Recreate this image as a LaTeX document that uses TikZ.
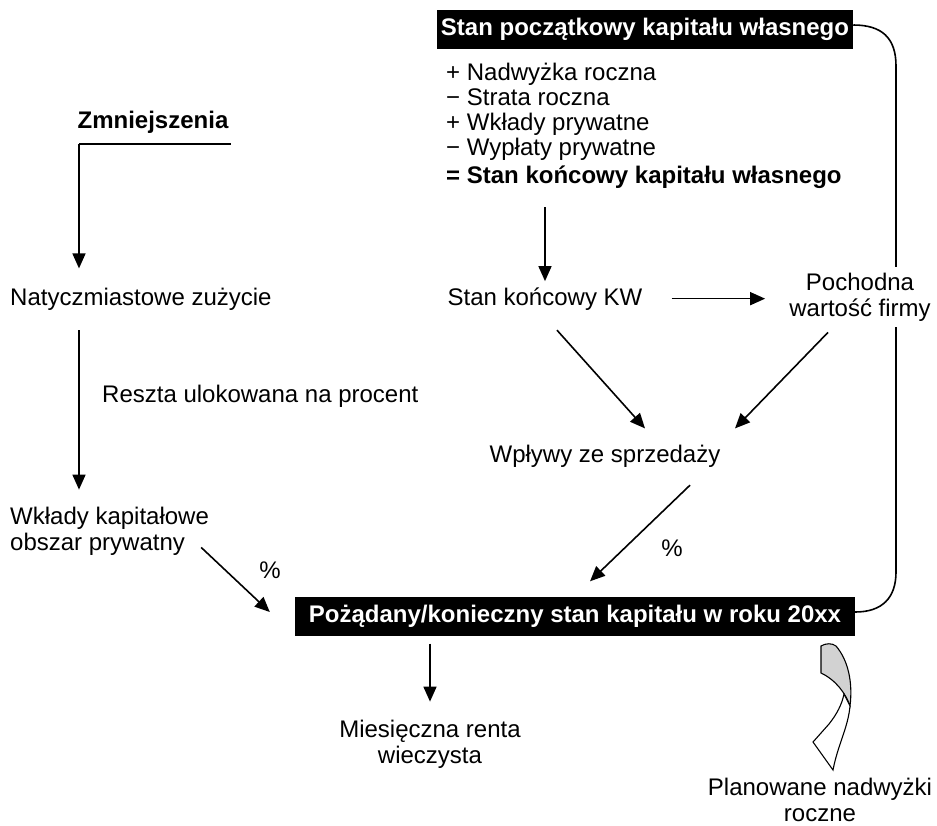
\documentclass[tikz,border=0pt]{standalone}
\usepackage{fontspec}
\setmainfont{Liberation Sans}
\usetikzlibrary{arrows.meta,positioning}
\tikzstyle{txt} = [font=\fontsize{24}{26}\selectfont, inner sep=2pt]
\tikzstyle{boldtxt} = [txt, font=\fontsize{24}{26}\selectfont\bfseries]
\tikzstyle{item} = [txt, anchor=base west]
\tikzstyle{blackbox} = [boldtxt, fill=black, text=white, minimum height=39pt, inner xsep=4pt]
\tikzstyle{line} = [line width=1.6pt]

\begin{document}
\begin{tikzpicture}[x=1pt, y=-1pt, >={Triangle[length=15pt,width=13pt]}]
	\useasboundingbox (0,0) rectangle (937,825);
	\node [blackbox] (start) at (645,29) {Stan początkowy kapitału własnego};
	\node [blackbox, minimum width=560pt] (goal) at (575,616) {Pożądany/konieczny stan kapitału w roku 20xx};
	\draw [line] ([yshift=4pt]start.east) .. controls (882,25) and (896,38) .. (896,66) -- (896,572) .. controls (896,598) and (882,612) .. ([yshift=4pt]goal.east);

	\node [item] (l1) at (444,80) {+ Nadwyżka roczna};
	\node [item, below=25pt of l1.base west, anchor=base west] (l2) {− Strata roczna};
	\node [item, below=25pt of l2.base west, anchor=base west] (l3) {+ Wkłady prywatne};
	\node [item, below=25pt of l3.base west, anchor=base west] (l4) {− Wypłaty prywatne};
	\node [item, boldtxt, below=28pt of l4.base west, anchor=base west] (l5) {= Stan końcowy kapitału własnego};

	\node [boldtxt, anchor=base] (zmn) at (153,128) {Zmniejszenia};
	\coordinate (kink) at (79,144);
	\node [item] (nat) at (8,305) {Natyczmiastowe zużycie};
	\node [item] (reszta) at (100,402) {Reszta ulokowana na procent};
	\node [txt, anchor=west, align=left] (wkl) at (8,531) {Wkłady kapitałowe\\obszar prywatny};
	\node [txt] (pct1) at (270,570) {\%};

	\node [txt, anchor=base] (skw) at (545,305) {Stan końcowy KW};
	\node [txt, align=center, fill=white, inner sep=6pt] (poch) at (860,297) {Pochodna\\wartość firmy};
	\node [txt, anchor=base] (wpl) at (605,462) {Wpływy ze sprzedaży};
	\node [txt] (pct2) at (672,548) {\%};

	\node [txt, align=center] (mies) at (430,744) {Miesięczna renta\\wieczysta};
	\node [txt, align=center] (plan) at (820,800) {Planowane nadwyżki\\roczne};

	\draw [line] (kink -| zmn.east) -- (kink);
	\draw [line, ->, shorten >=17pt] (kink) -- (kink |- nat.north);
	\draw [line, ->, shorten <=18pt, shorten >=15pt] (kink |- nat.south) -- (kink |- wkl.north);
	\draw [line, ->] ([xshift=-10pt,yshift=10pt]wkl.south east) -- ([xshift=-25pt,yshift=4pt]goal.west);

	\draw [line, ->, shorten <=17pt, shorten >=4pt] (skw.north |- l5.south) -- (skw.north);
	\draw [line, ->, shorten <=27pt, shorten >=18pt] (skw.east) -- (skw.east -| poch.west);
	\draw [line, ->] ([xshift=12pt,yshift=-18pt]skw.south) -- ([xshift=40pt,yshift=14pt]wpl.north);
	\draw [line, ->] ([xshift=-32pt,yshift=-5pt]poch.south) -- ([xshift=130pt,yshift=14pt]wpl.north);
	\draw [line, ->] ([xshift=85pt,yshift=-16pt]wpl.south) -- ([xshift=15pt,yshift=15pt]goal.north);

	\draw [line, ->, shorten <=8pt, shorten >=16pt] (mies.north |- goal.south) -- (mies.north);

	\filldraw [fill=gray!35, line width=1.1pt] (821,646) .. controls (826,643) and (832,643) .. (836,646) .. controls (848,660) and (853,682) .. (850,706) .. controls (846,694) and (836,680) .. (821,673) -- cycle;
	\filldraw [fill=white, line width=1.1pt] (850,706) .. controls (848,728) and (838,744) .. (833,770) -- (813,742) -- (829,724) .. controls (837,714) and (842,704) .. (844,694) -- cycle;
\end{tikzpicture}
\end{document}
